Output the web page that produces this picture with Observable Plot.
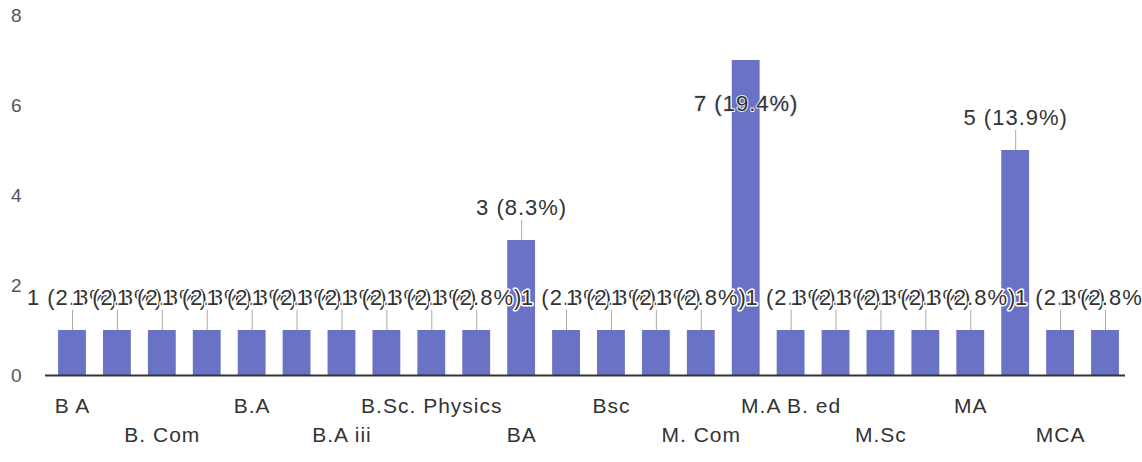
<!DOCTYPE html>
<html>
<head>
<meta charset="utf-8">
<script src="https://cdn.jsdelivr.net/npm/d3@7"></script>
<script src="https://cdn.jsdelivr.net/npm/@observablehq/plot@0.6"></script>
<style>
  html, body { margin: 0; padding: 0; background: white; }
</style>
</head>
<body>
<div id="chart"></div>
<script>
// Categories (answers), in the chart's order; only every other one is labelled on the axis
const categories = [
  "B A", "B. A", "B. Com", "B. Sc", "B.A", "B.A Hons", "B.A iii", "B.Com",
  "B.Sc. Physics", "B.Tech", "BA", "BCA", "Bsc", "Graduation", "M. Com", "M.A",
  "M.A B. ed", "M.Com", "M.Sc", "M.Tech", "MA", "MBA", "MCA", "MSc"
];
// Response counts
const values = [
  1, 1, 1, 1, 1, 1, 1, 1,
  1, 1, 3, 1, 1, 1, 1, 7,
  1, 1, 1, 1, 1, 5, 1, 1
];
// Y-axis tick values
const yTicks = [0, 2, 4, 6, 8];

const total = d3.sum(values);
const maxV = d3.max(values);
const data = categories.map((c, i) => ({
  category: c,
  value: values[i],
  label: `${values[i]} (${(values[i] / total * 100).toFixed(1)}%)`
}));
const row1 = categories.filter((d, i) => i % 4 === 0);
const row2 = categories.filter((d, i) => i % 4 === 2);
const outside = data.filter(d => d.value < maxV);
const inside = data.filter(d => d.value === maxV);

const chart = Plot.plot({
  width: 1142,
  height: 462,
  marginTop: 15,
  marginBottom: 87,
  marginLeft: 41,
  marginRight: 6,
  style: {
    fontFamily: "'Liberation Sans', Arial, sans-serif",
    background: "white",
    letterSpacing: "1px"
  },
  x: { type: "band", domain: categories, padding: 0.38, round: false },
  y: { domain: [0, 8] },
  marks: [
    Plot.axisY({ ticks: yTicks, tickSize: 0, tickPadding: 19, fontSize: 19, color: "#555", label: null }),
    Plot.barY(data, { x: "category", y: "value", fill: "#6a72c6" }),
    Plot.ruleY([0], { stroke: "#333", strokeWidth: 2, insetLeft: 4, insetRight: 11 }),
    Plot.ruleX(outside, { x: "category", y1: "value", y2: d => d.value + 0.45, stroke: "#aaa", strokeWidth: 1 }),
    Plot.text(outside, {
      x: "category", y: "value", text: "label", dy: -33,
      fontSize: 22, fill: "#333", stroke: "white", strokeWidth: 3
    }),
    Plot.text(inside, {
      x: "category", y: "value", text: "label", dy: 43,
      fontSize: 22, fill: "#333", stroke: "#e8eaf6", strokeWidth: 2
    }),
    Plot.axisX({ ticks: row1, tickSize: 0, tickPadding: 23, fontSize: 21, color: "#333", label: null }),
    Plot.axisX({ ticks: row2, tickSize: 0, tickPadding: 52, fontSize: 21, color: "#333", label: null })
  ]
});
document.getElementById("chart").appendChild(chart);
</script>
</body>
</html>
